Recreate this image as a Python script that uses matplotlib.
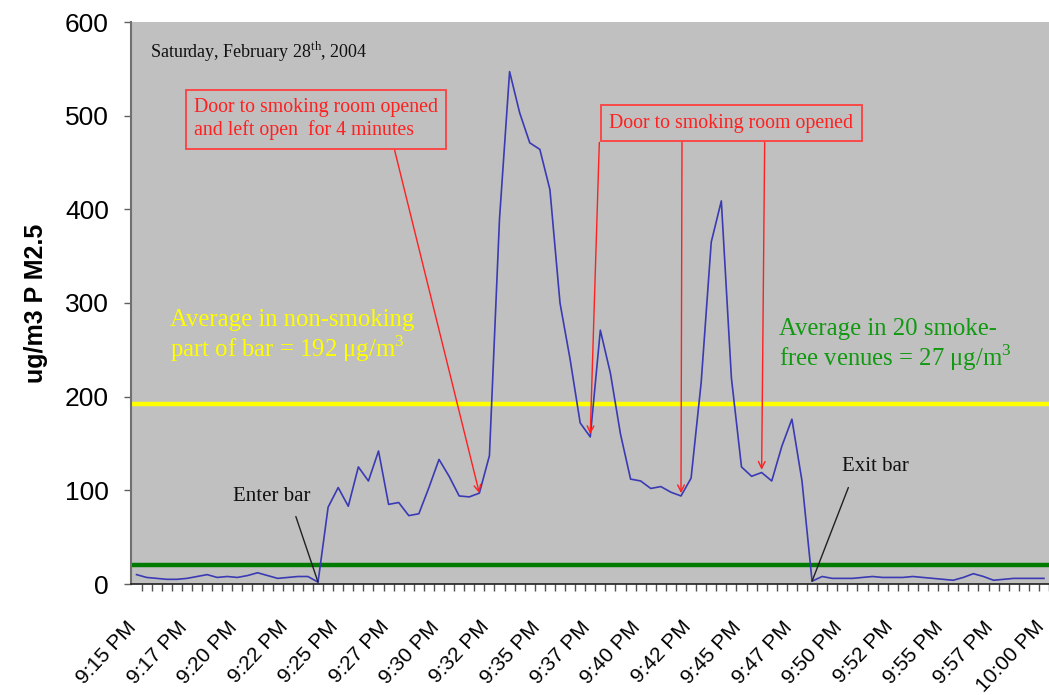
"""PM2.5 trace inside a bar, one reading every 30 seconds, 9:15 PM to 10:00 PM."""

import matplotlib

matplotlib.use("Agg")
import matplotlib.pyplot as plt
import matplotlib.transforms as mtransforms
import numpy as np

# one reading every 30 s, 9:15 PM .. 10:00 PM (91 readings)
PM25 = [
    10, 7, 6, 5, 5, 6, 8, 10, 7, 8, 7, 9, 12, 9, 6, 7, 8, 8, 2,
    82, 103, 83, 125, 110, 142, 85, 87, 73, 75, 103, 133, 115, 94, 93, 97, 137,
    390, 547, 503, 471, 464, 421, 300, 240, 172, 157, 271, 225, 160, 112, 110,
    102, 104, 98, 94, 113, 215, 365, 409, 220, 125, 115, 119, 110, 147, 176,
    110, 3,
    8, 6, 6, 6, 7, 8, 7, 7, 7, 8, 7, 6, 5, 4, 7, 11, 8, 4, 5, 6, 6, 6, 6,
]
TICK_LABELS = [
    "9:15 PM", "9:17 PM", "9:20 PM", "9:22 PM", "9:25 PM", "9:27 PM", "9:30 PM",
    "9:32 PM", "9:35 PM", "9:37 PM", "9:40 PM", "9:42 PM", "9:45 PM", "9:47 PM",
    "9:50 PM", "9:52 PM", "9:55 PM", "9:57 PM", "10:00 PM",
]
LABEL_EVERY = 5
AVG_SMOKING_BAR = 192
AVG_SMOKE_FREE = 20  # drawn line position
LONG_OPEN_IDX = 34
DOOR_OPEN_IDX = [45, 54, 62]
ENTER_IDX = 18
EXIT_IDX = 67

SERIF = "Liberation Serif"
SANS = "Liberation Sans"

plt.rcParams["font.family"] = [SANS, "DejaVu Sans"]
plt.rcParams["mathtext.fontset"] = "custom"
plt.rcParams["mathtext.rm"] = SERIF

x = np.arange(len(PM25))
y = np.array(PM25)

fig = plt.figure(figsize=(10.49, 6.95), dpi=100)
ax = fig.add_axes([131 / 1049, 111 / 695, 918 / 1049, 562 / 695])
ax.set_facecolor("#c0c0c0")

ax.axhline(AVG_SMOKING_BAR, color="#ffff00", lw=3.2, zorder=2)
ax.axhline(AVG_SMOKE_FREE, color="#007a00", lw=3.2, zorder=2)
ax.plot(x, y, color="#3a3ab4", lw=1.2, zorder=3)

ax.set_xlim(-0.55, len(PM25) - 1 + 0.1)
ax.set_ylim(0, 600)
ax.set_yticks(range(0, 601, 100))
ax.tick_params(axis="y", labelsize=19, length=5, width=1, color="#606060", pad=11)
ax.set_ylabel("ug/m3 P M2.5", fontsize=18, fontweight="bold", labelpad=12)

ax.set_xticks(x[::LABEL_EVERY])
ax.set_xticklabels(TICK_LABELS, rotation=47, ha="right", va="top",
                   rotation_mode="anchor", fontsize=15)
ax.tick_params(axis="x", length=0, pad=24)
shift = mtransforms.ScaledTranslation(-10 / 100, 0, fig.dpi_scale_trans)
for label in ax.get_xticklabels():
    label.set_transform(label.get_transform() + shift)
ax.set_xticks(np.arange(len(PM25)) + 0.5, minor=True)
ax.tick_params(axis="x", which="minor", length=5, width=1, color="#505050")

for side in ("top", "right"):
    ax.spines[side].set_visible(False)
ax.spines["left"].set_color("#707070")
ax.spines["left"].set_linewidth(1.5)
ax.spines["bottom"].set_color("#202020")
ax.spines["bottom"].set_linewidth(1.2)

ax.text(1.3, 568, "Saturday, February 28$^{\\rm th}$, 2004", family=SERIF,
        fontsize=13, ha="left", va="center", color="#111111")

red = "#ff2020"
box = dict(boxstyle="square,pad=0.42", fc="none", ec="#ff4040", lw=1.3)
ax.text(17.8, 496, "Door to smoking room opened\nand left open  for 4 minutes",
        family=SERIF, fontsize=14.3, color=red, ha="center", va="center",
        multialignment="left", bbox=box)
ax.text(59.0, 492, "Door to smoking room opened", family=SERIF, fontsize=14.3,
        color=red, ha="center", va="center", bbox=box)

arrow_red = dict(arrowstyle="->", color=red, lw=1.0, shrinkA=0, shrinkB=0,
                 mutation_scale=12)
ax.annotate("", xy=(LONG_OPEN_IDX, PM25[LONG_OPEN_IDX]), xytext=(25.6, 463),
            arrowprops=arrow_red)
for start_x, idx in zip([45.9, 54.1, 62.3], DOOR_OPEN_IDX):
    ax.annotate("", xy=(idx, PM25[idx] + 3), xytext=(start_x, 471.5),
                arrowprops=arrow_red)

ax.text(3.3, 264, "Average in non-smoking\npart of bar = 192 \u03bcg/m$^3$",
        family=SERIF, fontsize=17.8, color="#ffff00", ha="left", va="center",
        linespacing=1.1)
ax.text(63.7, 255, "Average in 20 smoke-\nfree venues = 27 \u03bcg/m$^3$",
        family=SERIF, fontsize=17.8, color="#119911", ha="left", va="center",
        linespacing=1.1)

arrow_black = dict(arrowstyle="-", color="#202020", lw=1.0, shrinkA=0, shrinkB=0)
ax.text(13.4, 93, "Enter bar", family=SERIF, fontsize=15, ha="center",
        va="center", color="#111111")
ax.annotate("", xy=(ENTER_IDX, PM25[ENTER_IDX]), xytext=(15.8, 72),
            arrowprops=arrow_black)
ax.text(73.3, 125, "Exit bar", family=SERIF, fontsize=15, ha="center",
        va="center", color="#111111")
ax.annotate("", xy=(EXIT_IDX, PM25[EXIT_IDX]), xytext=(70.6, 103),
            arrowprops=arrow_black)

fig.savefig("out.png", dpi=100)
